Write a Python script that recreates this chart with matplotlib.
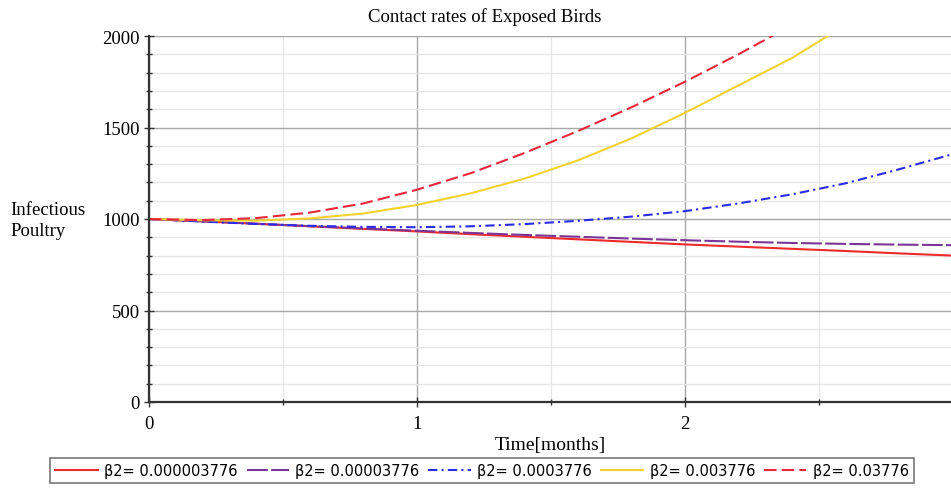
import matplotlib
matplotlib.use("Agg")
import matplotlib.pyplot as plt
from matplotlib.ticker import MultipleLocator

# ---- data ----
t = [0.0, 0.2, 0.4, 0.6, 0.8, 1.0, 1.2, 1.4, 1.6, 1.8, 2.0, 2.2, 2.4, 2.6, 2.8, 3.0]
beta_1 = [1000, 987, 974, 960, 946, 932, 917, 903, 889, 875, 861, 849, 837, 825, 812, 800]
beta_2 = [1000, 987, 974, 961, 948, 936, 924, 913, 903, 893, 884, 876, 869, 864, 860, 857]
beta_3 = [1000, 986, 973, 963, 957, 955, 960, 972, 990, 1013, 1043, 1085, 1135, 1195, 1272, 1355]
t_4 = [0.0, 0.2, 0.4, 0.6, 0.8, 1.0, 1.2, 1.4, 1.6, 1.8, 2.0, 2.2, 2.4, 2.6]
beta_4 = [1000, 993, 991, 1003, 1030, 1077, 1140, 1220, 1320, 1440, 1580, 1730, 1880, 2060]
t_5 = [0.0, 0.2, 0.4, 0.6, 0.8, 1.0, 1.2, 1.4, 1.6, 1.8, 2.0, 2.2, 2.4]
beta_5 = [1000, 994, 1005, 1035, 1085, 1160, 1250, 1360, 1480, 1610, 1750, 1900, 2060]
labels = ["β2= 0.000003776", "β2= 0.00003776", "β2= 0.0003776", "β2= 0.003776", "β2= 0.03776"]

title = "Contact rates of Exposed Birds"
xlabel = "Time[months]"
ylabel = "Infectious\nPoultry"

serif = "Liberation Serif"

fig = plt.figure(figsize=(9.51, 4.89), dpi=100)
ax = fig.add_axes([149/951, 1-403/489, 1-149/951, (403-37)/489])

lw = 1.5
l1, = ax.plot(t, beta_1, color="#ee2b2b", lw=lw, label=labels[0])
l2, = ax.plot(t, beta_2, color="#7b3596", lw=lw, label=labels[1], dashes=(10, 1.6))
l3, = ax.plot(t, beta_3, color="#2b2bea", lw=lw, label=labels[2], dashes=(4.5, 2, 1, 2))
l4, = ax.plot(t_4, beta_4, color="#f2d22e", lw=lw, label=labels[3])
l5, = ax.plot(t_5, beta_5, color="#e8283a", lw=lw, label=labels[4], dashes=(6, 2.5))

ax.set_xlim(0, 2.993)
ax.set_ylim(0, 2000)
ax.xaxis.set_major_locator(MultipleLocator(1))
ax.xaxis.set_minor_locator(MultipleLocator(0.5))
ax.yaxis.set_major_locator(MultipleLocator(500))
ax.yaxis.set_minor_locator(MultipleLocator(100))

ax.grid(which="major", color="#a8a8a8", lw=1.0)
ax.grid(which="minor", color="#e6e6e6", lw=0.9)
ax.set_axisbelow(True)

for s in ["top", "right"]:
    ax.spines[s].set_visible(False)
for s in ["left", "bottom"]:
    ax.spines[s].set_color("#333333")
    ax.spines[s].set_linewidth(1.6)

ax.tick_params(which="major", direction="inout", length=7, width=1, color="#333333",
               labelsize=13.5, pad=3)
ax.tick_params(axis="x", which="major", pad=6)
ax.tick_params(which="minor", direction="inout", length=4, width=1, color="#333333")
for lab in ax.get_xticklabels() + ax.get_yticklabels():
    lab.set_family(serif)

ax.set_xlabel(xlabel, fontfamily=serif, fontsize=14, labelpad=3)
fig.text(10/951, 1-221/489, ylabel, fontfamily=serif, fontsize=13.5,
         ha="left", va="center", linespacing=1.3)
fig.text(485/951, 1-17/489, title, fontfamily=serif, fontsize=13.5, ha="center", va="center")

leg = fig.legend(handles=[l1, l2, l3, l4, l5], loc="upper center",
                 bbox_to_anchor=(482/951, 1-459/489), ncol=5, frameon=True,
                 fancybox=False, edgecolor="#555555", fontsize=10.5,
                 handlelength=2.9, handletextpad=0.45, columnspacing=0.6,
                 borderpad=0.35, borderaxespad=0)
leg.get_frame().set_linewidth(1.2)

fig.savefig("out.png", dpi=100)
